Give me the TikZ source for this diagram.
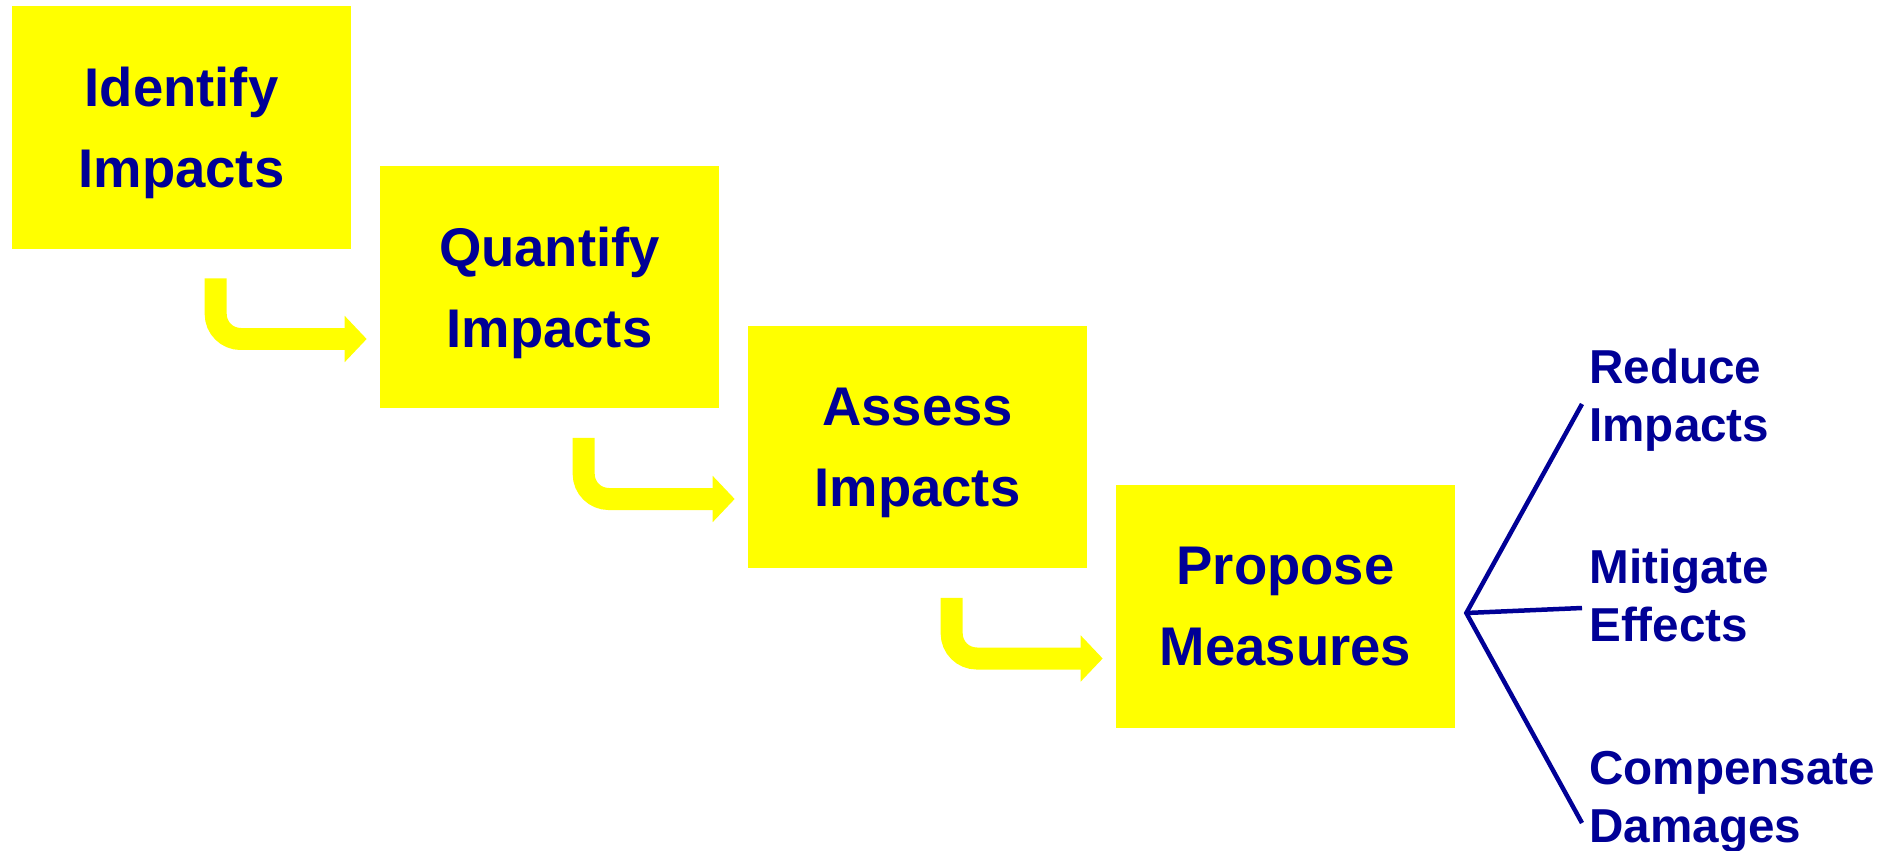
\documentclass[tikz,border=0pt]{standalone}
\usepackage{fontspec}
\setmainfont{Liberation Sans}
\definecolor{stepyellow}{RGB}{255,255,0}
\definecolor{stepnavy}{RGB}{0,0,150}
\usetikzlibrary{arrows.meta}
\usetikzlibrary{positioning}

\begin{document}
\begin{tikzpicture}[x=0.02cm, y=-0.02cm,
  stepbox/.style={fill=stepyellow, minimum width=6.78cm, minimum height=4.86cm, inner sep=0pt,
    align=center, text depth=0pt, text=stepnavy, font=\fontsize{31}{46}\selectfont\bfseries},
  steparrow/.style={draw=stepyellow, line width=0.44cm, rounded corners=0.5cm,
    -{Triangle[width=0.9cm, length=0.44cm]}},
  outcome/.style={anchor=north west, align=left, inner sep=0pt, text=stepnavy,
    font=\fontsize{27.1}{33}\selectfont\bfseries},
  branch/.style={draw=stepnavy, line width=0.09cm}]
  \useasboundingbox (0,0) rectangle (1892,851);

  % the four steps, stepping down to the right
  \node [stepbox] (identify) at (181.5,127.5) {Identify\\Impacts};
  \node [stepbox] (quantify) at (549.5,287) {Quantify\\Impacts};
  \node [stepbox] (assess) at (917.5,447) {Assess\\Impacts};
  \node [stepbox] (propose) at (1285.5,606.5) {Propose\\Measures};

  % bent arrows from one step to the next
  \foreach \a/\b in {identify/quantify, quantify/assess, assess/propose} {
    \draw [steparrow] ([shift={(204,29)}]\a.south west) |- ([shift={(-13,52)}]\b.west);
  }

  % the three kinds of measures
  \node [outcome] (reduce) at (1589,349) {Reduce\\Impacts};
  \node [outcome] (mitigate) at (1589,549) {Mitigate\\Effects};
  \node [outcome] (compensate) at (1589,751) {Compensate\\Damages};

  \coordinate (fork) at ([shift={(11,6.5)}]propose.east);
  \draw [branch] ([shift={(-7,55)}]reduce.north west) -- (fork) -- ([shift={(-7,72)}]compensate.north west);
  \draw [branch] (fork) -- ([shift={(-7,59)}]mitigate.north west);
\end{tikzpicture}
\end{document}
